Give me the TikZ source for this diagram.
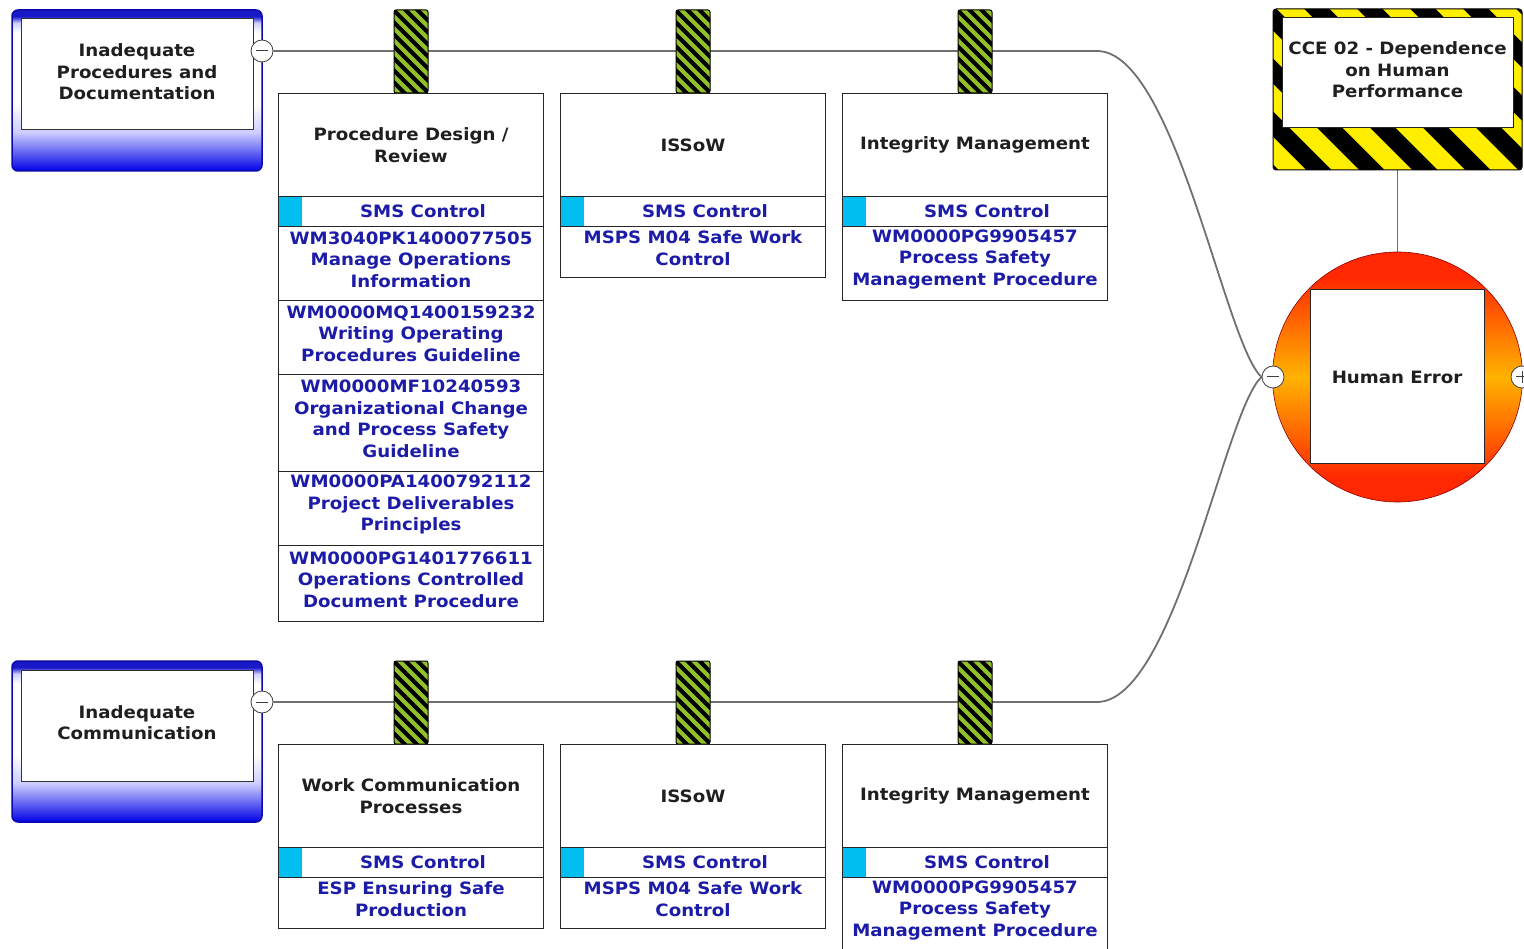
\documentclass[tikz,border=0pt]{standalone}
\usepackage{fontspec}
\setmainfont{DejaVu Sans}[FakeStretch=1.07]
\usetikzlibrary{calc}

\definecolor{linkgray}{RGB}{112,112,112}
\definecolor{ctrlblue}{RGB}{28,28,168}
\definecolor{smscyan}{RGB}{0,190,240}
\definecolor{barriergreen}{RGB}{145,192,40}
\definecolor{hazyellow}{RGB}{255,238,0}
\definecolor{thrdeep}{RGB}{0,0,230}
\definecolor{thrpale}{RGB}{205,205,255}
\definecolor{thrtop}{RGB}{25,25,200}
\definecolor{thredge}{RGB}{10,10,170}
\definecolor{evred}{RGB}{255,40,0}
\definecolor{evorange}{RGB}{255,110,0}
\definecolor{evyellow}{RGB}{255,178,0}

\pgfdeclareverticalshading{threatfill}{100bp}{%
  color(0bp)=(thrdeep); color(25bp)=(thrdeep); color(37bp)=(thrpale);
  color(46bp)=(white); color(68bp)=(white); color(71bp)=(thrpale);
  color(73bp)=(thrtop); color(100bp)=(thrtop)}
\pgfdeclareverticalshading{eventfill}{100bp}{%
  color(0bp)=(evred); color(30bp)=(evred); color(40bp)=(evorange);
  color(50bp)=(evyellow); color(60bp)=(evorange); color(70bp)=(evred);
  color(100bp)=(evred)}

\pgfdeclarelayer{bg}
\pgfdeclarelayer{links}
\pgfsetlayers{bg,links,main}

\newcommand{\diafont}{\bfseries\fontsize{17}{21.5}\selectfont}

% title cell, SMS row and cyan tag of one control
\newcommand{\ctrlhead}[4]{%
  \node[titlecell] (#1t) at (#2,#3) {#4};
  \node[smscell] (#1s) at (#2,#3+103) {};
  \fill[smscyan] ([shift={(0.6pt,-0.6pt)}]#1s.north west)
    rectangle ([shift={(24pt,0.6pt)}]#1s.south west);
  \node[smstext] (#1l) at ([xshift=12pt]#1s.center) {SMS Control};
}
% document cell below a control: name, x, y, height, text
\newcommand{\doccell}[5]{%
  \node[doccell, minimum height=#4pt, label={[doctext]center:{#5}}] (#1) at (#2,#3) {};
}

\begin{document}
\begin{tikzpicture}[x=1pt,y=-1pt,
  link/.style={draw=linkgray, line width=1.8pt},
  port/.style={circle, draw=black!75, line width=0.8pt, fill=white,
    minimum size=22pt, inner sep=0pt},
  minusport/.style={port, path picture={\draw[line width=1pt]
    ([xshift=-6pt]path picture bounding box.center) --
    ([xshift=6pt]path picture bounding box.center);}},
  plusport/.style={port, path picture={\draw[line width=1pt]
    ([xshift=-6pt]path picture bounding box.center) --
    ([xshift=6pt]path picture bounding box.center)
    ([yshift=-6pt]path picture bounding box.center) --
    ([yshift=6pt]path picture bounding box.center);}},
  threat/.style={rectangle, rounded corners=6pt, draw=thredge, line width=1.5pt,
    shading=threatfill, minimum width=250pt, minimum height=161pt, inner sep=0pt},
  threatin/.style={rectangle, draw=black!80, line width=1pt, fill=white,
    minimum width=232pt, minimum height=111pt, inner sep=0pt, align=center,
    font=\diafont, text=black!88},
  barrier/.style={rectangle, rounded corners=2pt, draw=black, line width=1pt,
    fill=barriergreen, minimum width=34pt, minimum height=83pt, inner sep=0pt,
    path picture={\foreach \k in {-10,...,10}{
      \draw[black, line width=4pt]
        ([yshift=\k*12pt]path picture bounding box.center)
        ++(-50pt,50pt) -- ++(100pt,-100pt);}}},
  hazard/.style={rectangle, rounded corners=3pt, draw=black, line width=1pt,
    fill=hazyellow, minimum width=249pt, minimum height=161pt, inner sep=0pt,
    path picture={\foreach \k in {-7,...,7}{
      \draw[black, line width=18pt]
        ([xshift=\k*53pt]path picture bounding box.center)
        ++(-200pt,200pt) -- ++(400pt,-400pt);}}},
  hazardin/.style={rectangle, draw=black!85, line width=1pt, fill=white,
    minimum width=231pt, minimum height=110pt, inner sep=0pt, align=center,
    font=\diafont, text=black!88},
  event/.style={circle, draw=red!55!black, line width=0.6pt, shading=eventfill,
    minimum size=250pt, inner sep=0pt},
  eventin/.style={rectangle, draw=black!85, line width=1pt, fill=white,
    minimum width=174pt, minimum height=174pt, inner sep=0pt,
    font=\diafont, text=black!88},
  titlecell/.style={rectangle, draw=black!85, line width=1pt, fill=white,
    anchor=north west, minimum width=265pt, minimum height=103pt, inner sep=0pt,
    align=center, font=\diafont, text=black!88},
  smscell/.style={rectangle, draw=black!85, line width=1pt, fill=white,
    anchor=north west, minimum width=265pt, minimum height=30pt, inner sep=0pt},
  smstext/.style={font=\diafont, text=ctrlblue, inner sep=0pt},
  doccell/.style={rectangle, draw=black!85, line width=1pt, fill=white,
    anchor=north west, minimum width=265pt, inner sep=0pt},
  doctext/.style={font=\diafont, text=ctrlblue, align=center, inner sep=0pt,
    yshift=4pt},
  captext/.style={font=\diafont, text=black!88, align=center, inner sep=0pt}
]
\begin{pgfonlayer}{bg}
  \fill[white] (0,0) rectangle (1524,949);
\end{pgfonlayer}
\useasboundingbox (0,0) rectangle (1524,949);

% threats
\node[threat] (t1) at (137,90.5) {};
\node[threatin, label={[captext, yshift=2.5pt]center:{Inadequate\\Procedures and\\Documentation}}]
  (t1i) at (137,74.5) {};
\node[minusport] (t1p) at (262,51) {};
\node[threat] (t2) at (137,741.5) {};
\node[threatin, label={[captext, yshift=3pt]center:{Inadequate\\Communication}}]
  (t2i) at (137,725.5) {};
\node[minusport] (t2p) at (262,702) {};

% hazard
\node[hazard] (hz) at (1397.5,89.5) {};
\node[hazardin, label={[captext, yshift=3pt]center:{CCE 02 - Dependence\\on Human\\Performance}}]
  (hzi) at (1397.5,73) {};

% top event
\node[event] (te) at (1397.5,377) {};
\node[eventin] (tei) at (1397,377) {Human Error};
\node[minusport] (tem) at (1273,377) {};
\node[plusport] (tep) at (1522,377) {};

% barriers
\node[barrier] (b11) at (411,51.5) {};
\node[barrier] (b12) at (693,51.5) {};
\node[barrier] (b13) at (975,51.5) {};
\node[barrier] (b21) at (411,702.5) {};
\node[barrier] (b22) at (693,702.5) {};
\node[barrier] (b23) at (975,702.5) {};

% controls, upper pathway
\ctrlhead{ca}{278}{93}{Procedure Design /\\Review}
\doccell{ca1}{278}{226}{74}{WM3040PK1400077505\\Manage Operations\\Information}
\doccell{ca2}{278}{300}{74}{WM0000MQ1400159232\\Writing Operating\\Procedures Guideline}
\doccell{ca3}{278}{374}{97}{WM0000MF10240593\\Organizational Change\\and Process Safety\\Guideline}
\doccell{ca4}{278}{471}{74}{WM0000PA1400792112\\Project Deliverables\\Principles}
\doccell{ca5}{278}{545}{76}{WM0000PG1401776611\\Operations Controlled\\Document Procedure}

\ctrlhead{cb}{560}{93}{ISSoW}
\doccell{cb1}{560}{226}{51}{MSPS M04 Safe Work\\Control}

\ctrlhead{cc}{842}{93}{Integrity Management}
\doccell{cc1}{842}{226}{74}{WM0000PG9905457\\Process Safety\\Management Procedure}

% controls, lower pathway
\ctrlhead{cd}{278}{744}{Work Communication\\Processes}
\doccell{cd1}{278}{877}{51}{ESP Ensuring Safe\\Production}

\ctrlhead{ce}{560}{744}{ISSoW}
\doccell{ce1}{560}{877}{51}{MSPS M04 Safe Work\\Control}

\ctrlhead{cf}{842}{744}{Integrity Management}
\doccell{cf1}{842}{877}{74}{WM0000PG9905457\\Process Safety\\Management Procedure}

% pathways
\coordinate (j1) at (1097,51);
\coordinate (j2) at (1097,702);
\begin{pgfonlayer}{links}
  \draw[link] (t1p.east) -- (j1) .. controls (1175,51) and (1225,345) .. (tem.west);
  \draw[link] (t2p.east) -- (j2) .. controls (1175,702) and (1225,409) .. (tem.west);
  \draw[link] (hz.south) -- (te.north);
\end{pgfonlayer}
\end{tikzpicture}
\end{document}
